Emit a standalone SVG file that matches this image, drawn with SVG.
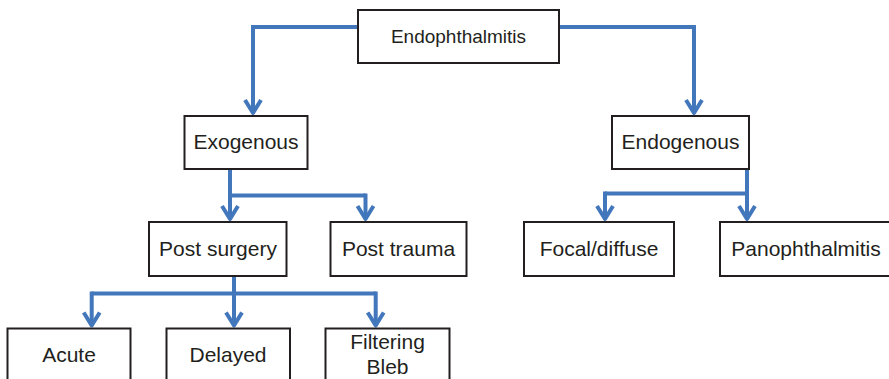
<svg xmlns="http://www.w3.org/2000/svg" width="889" height="379" viewBox="0 0 889 379">
<defs>
<style>
.box{fill:#fff;stroke:#231f20;stroke-width:2}
.lbl{font-family:"Liberation Sans",Arial,Helvetica,sans-serif;font-size:21px;fill:#231f20;text-anchor:middle}
.con{fill:none;stroke:#4277bc;stroke-width:4;stroke-linejoin:miter}
.arr{fill:none;stroke:#4277bc;stroke-width:4;stroke-linejoin:round;stroke-linecap:butt}
</style>
<marker id="ah" markerUnits="userSpaceOnUse" markerWidth="30" markerHeight="30" refX="0" refY="0" orient="auto" overflow="visible">
<path class="arr" d="M-13,-8 L0,0 L-13,8"/>
</marker>
</defs>
<rect width="889" height="379" fill="#fff"/>
<g id="connectors">
<path class="con" marker-end="url(#ah)" d="M358,27 H253 V113"/>
<path class="con" marker-end="url(#ah)" d="M559,27 H694 V113"/>
<path class="con" d="M230,169 V195.5 H365.5"/>
<path class="con" marker-end="url(#ah)" d="M230,195 V219"/>
<path class="con" marker-end="url(#ah)" d="M365.5,193.5 V219"/>
<path class="con" d="M747,169 V193.5 H605"/>
<path class="con" marker-end="url(#ah)" d="M747,193 V219"/>
<path class="con" marker-end="url(#ah)" d="M605,191.5 V219"/>
<path class="con" d="M234,276 V293.5 M91.7,293.5 H375.7"/>
<path class="con" marker-end="url(#ah)" d="M91.7,291.5 V325.5"/>
<path class="con" marker-end="url(#ah)" d="M234,293 V325.5"/>
<path class="con" marker-end="url(#ah)" d="M375.7,291.5 V325.5"/>
</g>
<g id="n-endophthalmitis">
<rect class="box" x="358" y="10" width="201" height="53"/>
<text class="lbl" x="458.5" y="43" style="font-size:19px">Endophthalmitis</text>
</g>
<g id="n-exogenous">
<rect class="box" x="184.5" y="116" width="123" height="53"/>
<text class="lbl" x="246" y="148.5">Exogenous</text>
</g>
<g id="n-endogenous">
<rect class="box" x="612" y="116" width="137" height="53"/>
<text class="lbl" x="680.5" y="148.5">Endogenous</text>
</g>
<g id="n-postsurgery">
<rect class="box" x="149" y="222" width="137.5" height="54"/>
<text class="lbl" x="218" y="255.5">Post surgery</text>
</g>
<g id="n-posttrauma">
<rect class="box" x="330.5" y="222" width="136" height="54"/>
<text class="lbl" x="398.5" y="255.5">Post trauma</text>
</g>
<g id="n-focal">
<rect class="box" x="524" y="222" width="150" height="54"/>
<text class="lbl" x="599" y="255.5">Focal/diffuse</text>
</g>
<g id="n-panophthalmitis">
<rect class="box" x="720" y="222" width="180" height="54"/>
<text class="lbl" x="806" y="255.5">Panophthalmitis</text>
</g>
<g id="n-acute">
<rect class="box" x="7.5" y="328.5" width="123" height="60"/>
<text class="lbl" x="69" y="361.5">Acute</text>
</g>
<g id="n-delayed">
<rect class="box" x="166.5" y="328.5" width="123.5" height="60"/>
<text class="lbl" x="228" y="362">Delayed</text>
</g>
<g id="n-bleb">
<rect class="box" x="325.5" y="328.5" width="124" height="60"/>
<text class="lbl" x="387.5" y="348.5">Filtering</text>
<text class="lbl" x="387.5" y="373.5">Bleb</text>
</g>
</svg>
